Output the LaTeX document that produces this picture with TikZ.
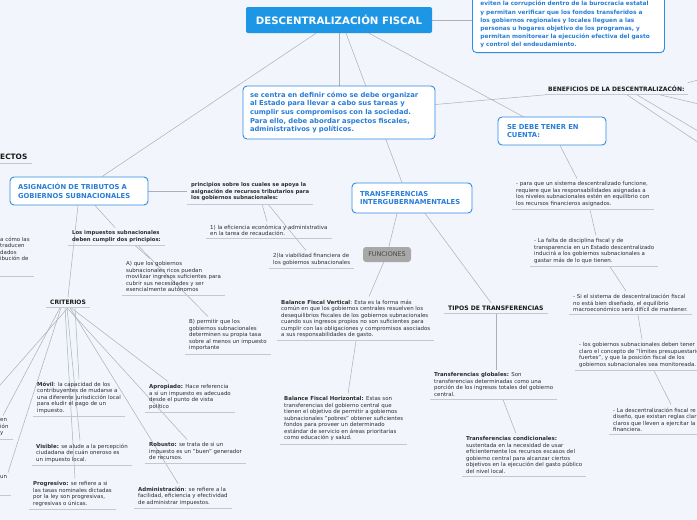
\documentclass[tikz,border=0pt]{standalone}
\usepackage{fontspec}
\setmainfont{DejaVu Sans}
\usetikzlibrary{positioning}
\definecolor{bgcol}{RGB}{242,245,252}
\definecolor{titlecol}{RGB}{30,150,230}
\definecolor{boxline}{RGB}{45,140,230}
\definecolor{boxtext}{RGB}{40,125,215}
\definecolor{linkcol}{RGB}{170,175,186}
\definecolor{ulcol}{RGB}{196,200,208}
\definecolor{tagfill}{RGB}{168,168,168}
\definecolor{tagtext}{RGB}{70,70,70}
\definecolor{txtcol}{RGB}{45,45,45}
\definecolor{hdrcol}{RGB}{25,25,25}
\pgfdeclarelayer{bg}
\pgfdeclarelayer{links}
\pgfsetlayers{bg,links,main}

\begin{document}
\begin{tikzpicture}[
  x=1pt,y=-1pt,
  link/.style={draw=linkcol,line width=0.5pt},
  uline/.style={draw=ulcol,line width=0.8pt},
  leaf/.style={anchor=north west,align=left,inner xsep=4pt,inner ysep=3pt,text=txtcol,font=\fontsize{5.45}{6.5}\selectfont,
    append after command={(\tikzlastnode.south west) edge[uline] (\tikzlastnode.south east)}},
  hdr/.style={leaf,font=\bfseries\fontsize{6}{7}\selectfont,text=hdrcol},
  mainbox/.style={draw=boxline,line width=0.9pt,fill=white,rounded corners=4pt,text=boxtext,align=left,font=\bfseries\fontsize{6.8}{8.5}\selectfont},
  topic/.style={fill=titlecol,rounded corners=2pt,text=white,font=\bfseries\fontsize{10.2}{12}\selectfont,minimum width=186pt,minimum height=26pt},
  tag/.style={fill=tagfill,rounded corners=3pt,text=tagtext,font=\fontsize{6.4}{7}\selectfont,minimum width=48pt,minimum height=15pt}
]
\useasboundingbox (0,0) rectangle (697,520);
\begin{pgfonlayer}{bg}
\fill[bgcol] (0,0) rectangle (697,520);
\end{pgfonlayer}

% central topic and first level
\node[topic] (title) at (339,20) {DESCENTRALIZACIÓN FISCAL};
\node[mainbox,anchor=south west,text width=176pt,inner xsep=8pt,inner ysep=4.5pt,font=\bfseries\fontsize{5.8}{8.2}\selectfont] (goal) at (472,53)
  {\mbox{}\\eviten la corrupción dentro de la burocracia estatal\\y permitan verificar que los fondos transferidos a\\los gobiernos regionales y locales lleguen a las\\personas u hogares objetivo de los programas, y\\permitan monitorear la ejecución efectiva del gasto\\y control del endeudamiento.};
\node[mainbox,text width=178pt,inner xsep=7pt,minimum height=53pt,font=\bfseries\fontsize{6.8}{8.6}\selectfont] (concept) at (339,112.5)
  {se centra en definir cómo se debe organizar\\al Estado para llevar a cabo sus tareas y\\cumplir sus compromisos con la sociedad.\\Para ello, debe abordar aspectos fiscales,\\administrativos y políticos.};
\node[mainbox,minimum height=28pt,text width=122pt,inner xsep=8pt] (asig) at (79,191) {ASIGNACIÓN DE TRIBUTOS A\\GOBIERNOS SUBNACIONALES};
\node[mainbox,minimum height=28pt,text width=90pt,inner xsep=9pt] (sedebe) at (552,131) {SE DEBE TENER EN\\CUENTA:};
\node[mainbox,minimum height=30pt,text width=104pt,inner xsep=8pt] (transf) at (412,198) {TRANSFERENCIAS\\INTERGUBERNAMENTALES};
\node[hdr,inner xsep=3pt] (benef) at (545,82.8) {BENEFICIOS DE LA DESCENTRALIZACÓN:};
\node[hdr,font=\bfseries\fontsize{7.4}{8}\selectfont] (aspect) at (-4,151.3) {ECTOS};

% se debe tener en cuenta
\node[leaf] (tc1) at (512,178.5) {- para que un sistema descentralizado funcione,\\requiere que las responsabilidades asignadas a\\los niveles subnacionales estén en equilibrio con\\los recursos financieros asignados.};
\node[leaf] (tc2) at (530,235.5) {- La falta de disciplina fiscal y de\\transparencia en un Estado descentralizado\\inducirá a los gobiernos subnacionales a\\gastar más de lo que tienen.};
\node[leaf] (tc3) at (569,291) {- Si el sistema de descentralización fiscal\\no está bien diseñado, el equilibrio\\macroeconómico será difícil de mantener.};
\node[leaf] (tc4) at (575,339.5) {- los gobiernos subnacionales deben tener\\claro el concepto de "límites presupuestarios\\fuertes", y que la posición fiscal de los\\gobiernos subnacionales sea monitoreada.};
\node[leaf] (tc5) at (609,404.5) {- La descentralización fiscal re\\diseño, que existan reglas clar\\claros que lleven a ejercitar la\\financiera.};

% asignacion de tributos
\node[leaf,font=\bfseries\fontsize{5.3}{6.5}\selectfont] (princ) at (187,179.5) {principios sobre los cuales se apoya la\\asignación de recursos tributarios para\\los gobiernos subnacionales:};
\node[leaf] (ef1) at (206,221.5) {1) la eficiencia económica y administrativa\\en la tarea de recaudación.};
\node[leaf] (ef2) at (269,250.5) {2)la viabilidad financiera de\\los gobiernos subnacionales};
\node[leaf,font=\bfseries\fontsize{5.3}{6.5}\selectfont] (imp) at (68,227.5) {Los impuestos subnacionales\\deben cumplir dos principios:};
\node[leaf] (pA) at (122,258.5) {A) que los gobiernos\\subnacionales ricos puedan\\movilizar ingresos suficientes para\\cubrir sus necesidades y ser\\esencialmente autónomos};
\node[leaf] (pB) at (185,316.5) {B) permitir que los\\gobiernos subnacionales\\determinen su propia tasa\\sobre al menos un impuesto\\importante};
\node[hdr] (crit) at (46,296.8) {CRITERIOS};
\node[leaf] (movil) at (33,378.5) {\textbf{Móvil}: la capacidad de los\\contribuyentes de mudarse a\\una diferente jurisdicción local\\para eludir el pago de un\\impuesto.};
\node[leaf] (visible) at (32,440.5) {\textbf{Visible:} se alude a la percepción\\ciudadana de cuán oneroso es\\un impuesto local.};
\node[leaf] (prog) at (29,478.5) {\textbf{Progresivo:} se refiere a si\\las tasas nominales dictadas\\por la ley son progresivas,\\regresivas o únicas.};
\node[leaf] (aprop) at (145,381.5) {\textbf{Apropiado:} Hace referencia\\a si un impuesto es adecuado\\desde el punto de vista\\político};
\node[leaf] (robusto) at (145,439.5) {\textbf{Robusto:} se trata de si un\\impuesto es un "buen" generador\\de recursos.};
\node[leaf] (admin) at (134,483.5) {\textbf{Administración}: se refiere a la\\facilidad, eficiencia y efectividad\\de administrar impuestos.};
\node[leaf] (lft1) at (-4,233.5) {a cómo las\\traducen\\dados\\ibución de\\\mbox{}\\\mbox{}};
\node[leaf] (lft2) at (-4,415.5) {en\\ión\\y};
\node[leaf] (lft3) at (-4,472.5) {un\\\mbox{}\\\mbox{}};

% transferencias
\node[tag] (funcs) at (387,254.5) {FUNCIONES};
\node[leaf] (bfv) at (277,296.5) {\textbf{Balance Fiscal Vertical}: Esta es la forma más\\común en que los gobiernos centrales resuelven los\\desequilibrios fiscales de los gobiernos subnacionales\\cuando sus ingresos propios no son suficientes para\\cumplir con las obligaciones y compromisos asociados\\a sus responsabilidades de gasto.};
\node[leaf] (bfh) at (280,393.5) {\textbf{Balance Fiscal Horizontal:} Estas son\\transferencias del gobierno central que\\tienen el objetivo de permitir a gobiernos\\subnacionales "pobres" obtener suficientes\\fondos para proveer un determinado\\estándar de servicio en áreas prioritarias\\como educación y salud.};
\node[hdr,font=\bfseries\fontsize{6.1}{7}\selectfont] (tipos) at (444,302.8) {TIPOS DE TRANSFERENCIAS};
\node[leaf] (tglob) at (430,369.5) {\textbf{Transferencias globales:} Son\\transferencias determinadas como una\\porción de los ingresos totales del gobierno\\central.};
\node[leaf] (tcond) at (462,433.5) {\textbf{Transferencias condicionales:}\\sustentada en la necesidad de usar\\eficientemente los recursos escasos del\\gobierno central para alcanzar ciertos\\objetivos en la ejecución del gasto público\\del nivel local.};

% branches leaving the page
\coordinate (bx1) at (720,74);
\coordinate (bx2) at (720,157);
\coordinate (bx3) at (720,144);
\coordinate (bx4) at (720,109);
\coordinate (lx1) at (-20,408);

\begin{pgfonlayer}{links}
\draw[link] ([xshift=-23pt]title.south) -- ([xshift=23pt]asig.north);
\draw[link] (title) -- (concept);
\draw[link] ([xshift=7pt]title.south) -- ([xshift=-10pt]transf.north);
\draw[link] ([xshift=30pt]title.south) -- ([xshift=-29pt]sedebe.north);
\draw[link] (title.east) -- (title.east -| goal.west);
\draw[link] ([yshift=8pt]concept.east) -- (benef.south west);
\draw[link] (benef.north east) -- (bx1);
\draw[link] ([xshift=82pt]benef.south west) -- (bx2);
\draw[link] ([xshift=92pt]benef.south west) -- (bx3);
\draw[link] ([xshift=115pt]benef.south west) -- (bx4);
\draw[link] ([xshift=8pt]sedebe.south) -- ([xshift=65pt]tc1.north west);
\draw[link] ([xshift=78pt]tc1.south west) -- ([xshift=66pt]tc2.north west);
\draw[link] ([xshift=80pt]tc2.south west) -- ([xshift=57pt]tc3.north west);
\draw[link] ([xshift=69pt]tc3.south west) -- ([xshift=67pt]tc4.north west);
\draw[link] ([xshift=79pt]tc4.south west) -- ([xshift=62pt]tc5.north west);
\draw[link] (asig.east) -- (asig.east -| princ.west);
\draw[link] ([xshift=16pt]asig.south) -- ([xshift=47pt]imp.north west);
\draw[link] ([xshift=-1pt]asig.south) -- ([xshift=22pt]crit.north west);
\draw[link] ([xshift=75pt]princ.south west) -- ([xshift=61pt]ef1.north west);
\draw[link] ([xshift=81pt]princ.south west) -- ([xshift=37pt]ef2.north west);
\draw[link] ([xshift=67pt]imp.south west) -- ([xshift=28pt]pA.north west);
\draw[link] ([xshift=70pt]imp.south west) -- ([xshift=23pt]pB.north west);
\draw[link] ([xshift=29pt]crit.south west) -- ([xshift=46pt]movil.north west);
\draw[link] ([xshift=21pt]crit.south west) -- ([xshift=48pt]visible.north west);
\draw[link] ([xshift=19pt]crit.south west) -- ([xshift=46pt]prog.north west);
\draw[link] ([xshift=25pt]crit.south west) -- ([xshift=23pt]aprop.north west);
\draw[link] ([xshift=21pt]crit.south west) -- ([xshift=42pt]robusto.north west);
\draw[link] ([xshift=24pt]crit.south west) -- ([xshift=44pt]admin.north west);
\draw[link] ([xshift=22pt]crit.south west) -- (lx1);
\draw[link] ([xshift=14pt]crit.south west) -- ([xshift=7pt]lft2.north west);
\draw[link] ([xshift=15pt]crit.south west) -- ([xshift=12pt]lft3.north west);
\draw[link] ([xshift=-15pt]transf.south) -- (funcs) -- ([xshift=92pt]bfv.north west);
\draw[link] ([xshift=13pt]transf.south) -- ([xshift=47pt]tipos.north west);
\draw[link] ([xshift=52pt]tipos.south west) -- ([xshift=66pt]tglob.north west);
\draw[link] ([xshift=73pt]tglob.south west) -- ([xshift=54pt]tcond.north west);
\draw[link] ([xshift=79pt]bfv.south west) -- ([xshift=68pt]bfh.north west);
\end{pgfonlayer}
\end{tikzpicture}
\end{document}
